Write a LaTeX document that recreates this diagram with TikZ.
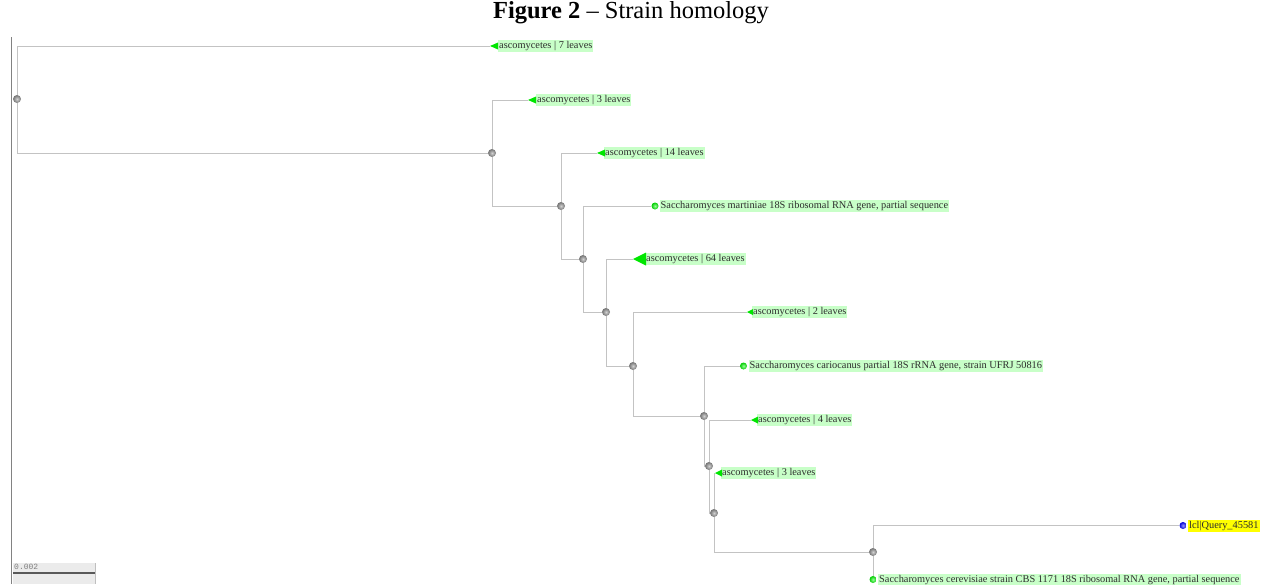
\documentclass[tikz,border=0pt]{standalone}
\usepackage{fontspec}
\setmainfont{Liberation Serif}
\newfontfamily\monof{Liberation Mono}
\definecolor{linegray}{RGB}{195,195,195}
\definecolor{axisgray}{RGB}{130,130,130}
\definecolor{labgreen}{RGB}{200,255,200}
\definecolor{leafgreen}{RGB}{0,230,0}
\definecolor{txtcol}{RGB}{45,45,45}
\definecolor{qyellow}{RGB}{255,255,0}
\definecolor{scalebg}{RGB}{235,235,235}
\pgfdeclarelayer{bg}
\pgfsetlayers{bg,main}
\tikzset{
  branch/.style={draw=linegray, line width=1pt},
  inode/.style={circle, inner sep=0pt, minimum size=8pt, shading=radial, inner color=gray!35, outer color=black!55},
  lab/.style={fill=labgreen, text=txtcol, anchor=west, inner xsep=1pt, inner ysep=1pt,
    text height=7.6pt, text depth=2.4pt, font=\fontsize{10.35}{11}\selectfont},
  qlab/.style={lab, fill=qyellow},
  tri/.style={fill=leafgreen},
  gleaf/.style={circle, inner sep=0pt, minimum size=7pt, shading=radial, inner color=green!40!white, outer color=green!80!black},
  bleaf/.style={circle, inner sep=0pt, minimum size=7pt, shading=radial, inner color=blue!40!white, outer color=blue!85!black},
}
\begin{document}
\begin{tikzpicture}[x=1pt, y=-1pt]
\useasboundingbox (0,0) rectangle (1261,584);
% title
\node (title) at (631,12.5) {\fontsize{24.5}{26}\selectfont\textbf{Figure 2} -- Strain homology};
% left axis
\coordinate (ax1) at (11.5,37);
\coordinate (ax2) at (11.5,584);
\draw[axisgray, line width=1pt] (ax1) -- (ax2);
% scale bar
\node[fill=scalebg, inner sep=0pt, minimum width=82pt, minimum height=21pt, anchor=north west] (sbox) at (13,563) {};
\coordinate (sb1) at (13,573);
\coordinate (sb2) at (95,573);
\draw[draw=black!65, line width=1.5pt] (sb1) -- (sb2);
\draw[draw=gray!50, line width=0.8pt] (sbox.north east) -- (sbox.south east);
\node[anchor=north west, inner sep=0pt, text=gray, font=\monof\fontsize{8}{8}\selectfont] (sbtxt) at (14,563.5) {0.002};
% internal nodes
\node[inode] (R0) at (17,99) {};
\node[inode] (N1) at (492,153) {};
\node[inode] (N2) at (561,206) {};
\node[inode] (N3) at (583,259) {};
\node[inode] (N4) at (606,312) {};
\node[inode] (N5) at (633,366) {};
\node[inode] (N6) at (704,416) {};
\node[inode] (N7) at (709,466) {};
\node[inode] (N8) at (714,513) {};
\node[inode] (N9) at (873,552) {};
% leaf tips
\coordinate (t1) at (490,46);
\coordinate (t2) at (528,100);
\coordinate (t3) at (597,153);
\coordinate (t5) at (633,259);
\coordinate (t6) at (747,312);
\coordinate (t8) at (751,420);
\coordinate (t9) at (715,473);
\node[gleaf] (c4) at (655,206) {};
\node[gleaf] (c7) at (743.5,366) {};
\node[bleaf] (c10) at (1183,525.5) {};
\node[gleaf] (c11) at (873,579.5) {};
% branches
\begin{pgfonlayer}{bg}
\draw[branch] (R0) |- (t1);
\draw[branch] (R0) |- (N1);
\draw[branch] (N1) |- (t2);
\draw[branch] (N1) |- (N2);
\draw[branch] (N2) |- (t3);
\draw[branch] (N2) |- (N3);
\draw[branch] (N3) |- (c4);
\draw[branch] (N3) |- (N4);
\draw[branch] (N4) |- (t5);
\draw[branch] (N4) |- (N5);
\draw[branch] (N5) |- (t6);
\draw[branch] (N5) |- (N6);
\draw[branch] (N6) |- (c7);
\draw[branch] (N6) |- (N7);
\draw[branch] (N7) |- (t8);
\draw[branch] (N7) |- (N8);
\draw[branch] (N8) |- (t9);
\draw[branch] (N8) |- (N9);
\draw[branch] (N9) |- (c10);
\draw[branch] (N9) -- (c11);
\end{pgfonlayer}
% labels
\node[lab] (l1) at (498,46) {ascomycetes | 7 leaves};
\node[lab] (l2) at (536,100) {ascomycetes | 3 leaves};
\node[lab] (l3) at (604,153) {ascomycetes | 14 leaves};
\node[lab] (l4) at (659.5,206) {Saccharomyces martiniae 18S ribosomal RNA gene, partial sequence};
\node[lab] (l5) at (645,259) {ascomycetes | 64 leaves};
\node[lab] (l6) at (752,312) {ascomycetes | 2 leaves};
\node[lab] (l7) at (748.5,366) {Saccharomyces cariocanus partial 18S rRNA gene, strain UFRJ 50816};
\node[lab] (l8) at (757,420) {ascomycetes | 4 leaves};
\node[lab] (l9) at (721,473) {ascomycetes | 3 leaves};
\node[qlab] (l10) at (1188,525.5) {lcl|Query\_45581};
\node[lab] (l11) at (878,579.5) {Saccharomyces cerevisiae strain CBS 1171 18S ribosomal RNA gene, partial sequence};
% triangles
\fill[tri] (t1) -- ++(8,-3.5) -- ++(0,7) -- cycle;
\fill[tri] (t2) -- ++(8,-3.5) -- ++(0,7) -- cycle;
\fill[tri] (t3) -- ++(8,-3.5) -- ++(0,7) -- cycle;
\fill[tri] (t5) -- ++(13,-6.5) -- ++(0,13) -- cycle;
\fill[tri] (t6) -- ++(6,-3) -- ++(0,6) -- cycle;
\fill[tri] (t8) -- ++(7,-3.5) -- ++(0,7) -- cycle;
\fill[tri] (t9) -- ++(7,-3.5) -- ++(0,7) -- cycle;
\end{tikzpicture}
\end{document}
